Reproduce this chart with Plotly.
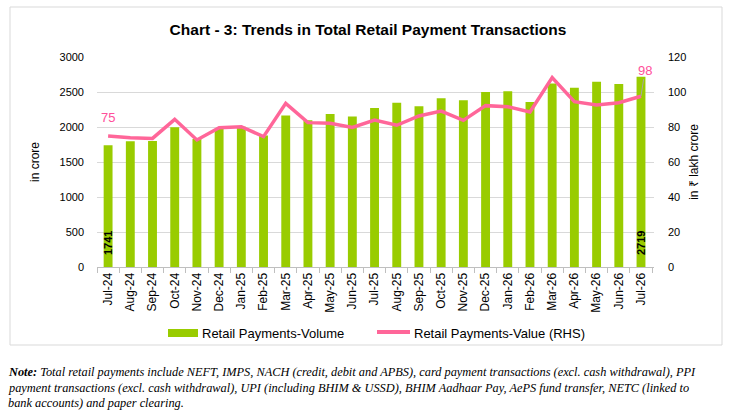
import plotly.graph_objects as go

months = ["Jul-24", "Aug-24", "Sep-24", "Oct-24", "Nov-24", "Dec-24", "Jan-25", "Feb-25",
          "Mar-25", "Apr-25", "May-25", "Jun-25", "Jul-25", "Aug-25", "Sep-25", "Oct-25",
          "Nov-25", "Dec-25", "Jan-26", "Feb-26", "Mar-26", "Apr-26", "May-26", "Jun-26", "Jul-26"]
volume = [1741, 1796, 1800, 1995, 1828, 1975, 2005, 1880, 2165, 2095, 2186, 2150, 2271,
          2347, 2295, 2410, 2381, 2500, 2510, 2357, 2620, 2562, 2648, 2614, 2719]
value = [74.9, 73.9, 73.5, 84.4, 72.6, 79.6, 80.2, 74.5, 93.5, 82.5, 82.1, 79.8, 84.0,
         81.0, 86.3, 89.1, 83.8, 92.2, 91.6, 88.6, 108.2, 94.5, 92.6, 93.9, 97.6]
left_ticks = [0, 500, 1000, 1500, 2000, 2500, 3000]
right_ticks = [0, 20, 40, 60, 80, 100, 120]
note_lines = [
    "<b>Note:</b> Total retail payments include NEFT, IMPS, NACH (credit, debit and APBS), card payment transactions (excl. cash withdrawal), PPI",
    "payment transactions (excl. cash withdrawal), UPI (including BHIM &amp; USSD), BHIM Aadhaar Pay, AePS fund transfer, NETC (linked to",
    "bank accounts) and paper clearing.",
]

W, H = 731, 417
L, R, T, B = 97, 654, 57, 267
def px(x):
    return (x - L) / (R - L)
def py(y):
    return (B - y) / (B - T)

GREEN = "#99cc00"
PINK = "#ff6699"
PINK_TXT = "#ff4f9a"
SANS = "Liberation Sans, Arial, sans-serif"
SERIF = "Liberation Serif, Times New Roman, serif"

fig = go.Figure()
fig.add_trace(go.Bar(x=months, y=volume, name="Retail Payments-Volume",
                     marker=dict(color=GREEN, line=dict(width=0)), showlegend=False))
fig.add_trace(go.Scatter(x=months, y=value, name="Retail Payments-Value (RHS)", yaxis="y2",
                         mode="lines", line=dict(color=PINK, width=3.5), showlegend=False))

annotations = [
    dict(x=months[0], y=value[0], xref="x", yref="y2", text=f"{round(value[0])}",
         showarrow=False, yshift=18, font=dict(family=SANS, size=13, color=PINK_TXT)),
    dict(x=months[-1], y=value[-1], xref="x", yref="y2", text=f"{round(value[-1])}",
         showarrow=True, arrowhead=0, arrowwidth=1, arrowcolor="#a6a6a6", ax=4, ay=-26,
         font=dict(family=SANS, size=13, color=PINK_TXT)),
    dict(x=months[0], y=0, xref="x", yref="y", text=f"<b>{volume[0]}</b>", textangle=-90,
         showarrow=False, yanchor="bottom", yshift=10, font=dict(family=SANS, size=11, color="#000000")),
    dict(x=months[-1], y=0, xref="x", yref="y", text=f"<b>{volume[-1]}</b>", textangle=-90,
         showarrow=False, yanchor="bottom", yshift=10, font=dict(family=SANS, size=11, color="#000000")),
    # legend texts
    dict(x=px(200), y=py(333), xref="paper", yref="paper", text="Retail Payments-Volume",
         showarrow=False, xanchor="left", yanchor="middle", font=dict(family=SANS, size=13, color="#000000")),
    dict(x=px(412), y=py(333), xref="paper", yref="paper", text="Retail Payments-Value (RHS)",
         showarrow=False, xanchor="left", yanchor="middle", font=dict(family=SANS, size=13, color="#000000")),
]
for i, line in enumerate(note_lines):
    annotations.append(dict(x=px(6), y=py(372 + 15.5 * i), xref="paper", yref="paper",
                            xanchor="left", yanchor="middle", align="left", showarrow=False,
                            text=f"<i>{line}</i>",
                            font=dict(family=SERIF, size=12.35, color="#000000")))

shapes = [
    dict(type="rect", xref="paper", yref="paper", x0=px(10), x1=px(722), y0=py(345), y1=py(7),
         line=dict(color="#d9d9d9", width=1), fillcolor="rgba(0,0,0,0)", layer="below"),
    dict(type="rect", xref="paper", yref="paper", x0=px(168), x1=px(198), y0=py(337), y1=py(329),
         line=dict(width=0), fillcolor=GREEN),
    dict(type="line", xref="paper", yref="paper", x0=px(377), x1=px(410), y0=py(332), y1=py(332),
         line=dict(color=PINK, width=4)),
]

fig.update_layout(
    width=W, height=H,
    margin=dict(l=L, r=W - R, t=T, b=H - B, pad=0),
    paper_bgcolor="white", plot_bgcolor="white",
    bargap=0.6,
    title=dict(text="<b>Chart - 3: Trends in Total Retail Payment Transactions</b>",
               x=368 / W, xref="container", xanchor="center",
               y=1 - 30 / H, yref="container", yanchor="middle",
               font=dict(family="Liberation Sans Narrow, Arial Narrow, sans-serif", size=15.5, color="#000000")),
    xaxis=dict(type="category", showline=True, linecolor="#bfbfbf", linewidth=1,
               ticks="outside", tickson="boundaries", ticklen=5, tickcolor="#bfbfbf",
               tickangle=-90, tickfont=dict(family=SANS, size=12, color="#000000"),
               showgrid=False, zeroline=False),
    yaxis=dict(range=[0, 3000], tickvals=left_ticks, showgrid=True, gridcolor="#d9d9d9", gridwidth=1,
               zeroline=False, showline=False, ticks="", ticklabelstandoff=12,
               tickfont=dict(family=SANS, size=11, color="#000000"),
               title=dict(text="in crore", standoff=17, font=dict(family=SANS, size=12, color="#000000"))),
    yaxis2=dict(range=[0, 120], tickvals=right_ticks, overlaying="y", side="right", showgrid=False,
                zeroline=False, showline=False, ticks="", ticklabelstandoff=13,
                tickfont=dict(family=SANS, size=11, color="#000000"),
                title=dict(text="in ₹ lakh crore", standoff=4, font=dict(family=SANS, size=12, color="#000000"))),
    annotations=annotations,
    shapes=shapes,
    showlegend=False,
)

fig.write_html("out.html", config={"displayModeBar": False},
               post_script="document.body.style.margin='0';document.body.style.padding='0';")
